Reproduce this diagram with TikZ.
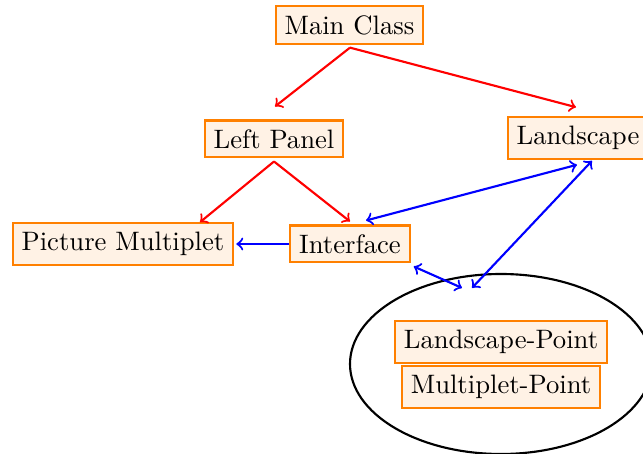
\documentclass[tikz,border=0pt]{standalone}
\usetikzlibrary{shapes.geometric,calc}
\begin{document}
\begin{tikzpicture}[x=0.375pt,y=-0.375pt,
  cls/.style={draw=orange,fill=orange!10,thick,inner sep=3.333pt},
  redarr/.style={->,red,thick},
  bluearr/.style={->,blue,thick},
  bibluearr/.style={<->,blue,thick}]
\useasboundingbox (0,0) rectangle (643,454);
\node[draw,thick,ellipse,minimum width=113.25pt,minimum height=67.5pt] (ell) at (501,364) {};
\node[cls] (main) at (349.5,25) {Main Class};
\node[cls] (lp) at (274,139) {Left Panel};
\node[cls] (land) at (578,138) {Landscape};
\node[cls] (pm) at (123,244) {Picture Multiplet};
\node[cls] (iface) at (350,244) {Interface};
\node[cls] (lpt) at (501,342) {Landscape-Point};
\node[cls] (mpt) at (501,387) {Multiplet-Point};
% red arrows
\draw[redarr] ($(main.south)+(0.5,3)$) -- ($(lp.north)+(1,-13)$);
\draw[redarr] ($(main.south)+(0.5,3)$) -- ($(land.north)+(-2,-9)$);
\draw[redarr] ($(lp.south)+(0,3)$) -- ($(pm.north)+(77,0)$);
\draw[redarr] ($(lp.south)+(0,3)$) -- ($(iface.north)+(0,-3)$);
% blue arrows
\draw[bluearr] (iface.west) -- ($(pm.east)+(2,0)$);
\draw[bibluearr] ($(iface.north)+(16,-4)$) -- ($(land.south)+(-1,5)$);
\draw[bibluearr] ($(land.south)+(14,1)$) -- ($(ell.north)+(-29,15)$);
\draw[bibluearr] ($(iface.south east)+(3,3)$) -- ($(ell.north)+(-39,15)$);
\end{tikzpicture}
\end{document}
